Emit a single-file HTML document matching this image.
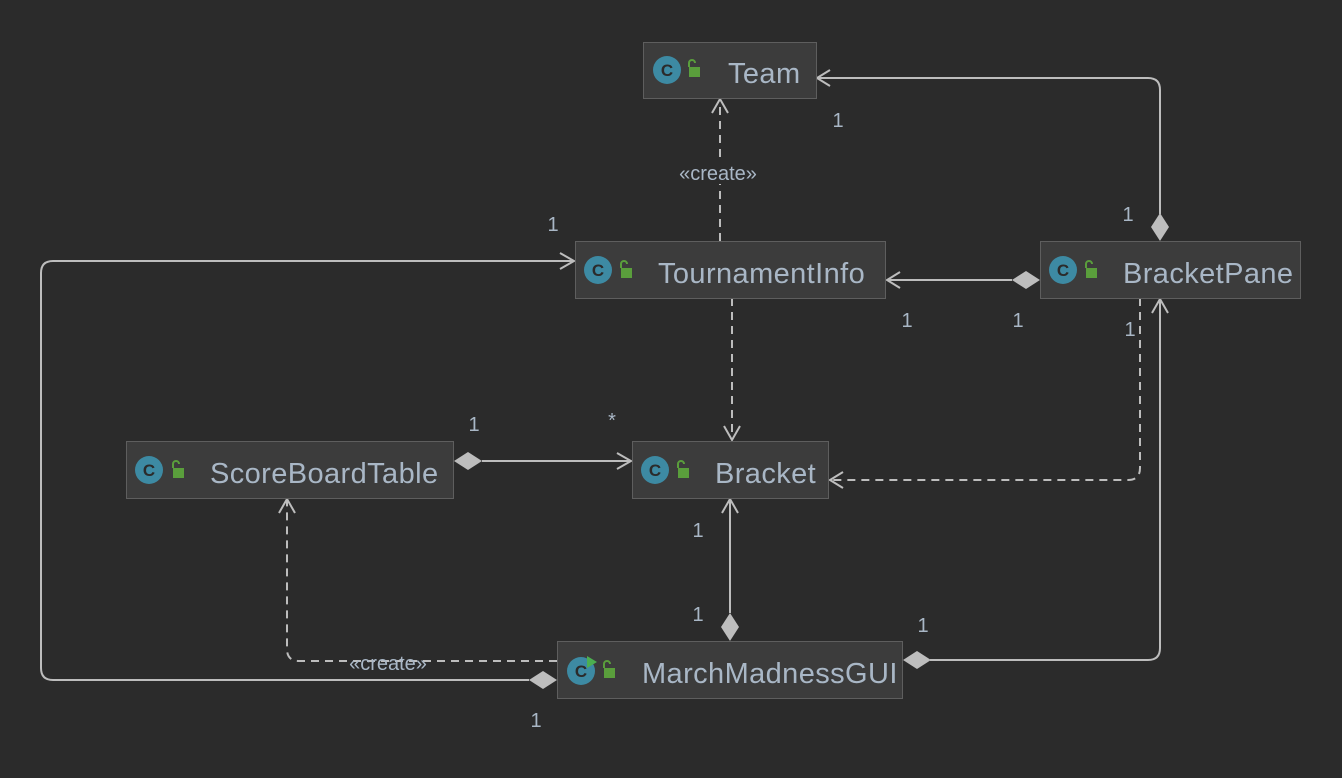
<!DOCTYPE html>
<html><head><meta charset="utf-8"><style>
html,body{margin:0;padding:0;background:#2b2b2b;}
svg{display:block;}
.n{font-family:"Liberation Sans","DejaVu Sans",sans-serif;font-size:29px;letter-spacing:0.4px;fill:#a9b7c6;}
.l{font-family:"Liberation Sans","DejaVu Sans",sans-serif;font-size:20px;fill:#a9b7c6;}
.ln{stroke:#bdbdbd;stroke-width:2;fill:none;}
.d{stroke-dasharray:8,6;}
.dm{fill:#bdbdbd;}
</style></head><body>
<svg width="1342" height="778" viewBox="0 0 1342 778" xmlns="http://www.w3.org/2000/svg">
<defs>
<g id="ic"><circle cx="0" cy="0" r="14" fill="#3d8aa3"/><text x="0" y="6" text-anchor="middle" font-family="Liberation Sans,sans-serif" font-weight="bold" font-size="17" fill="#2b2b2b">C</text></g>
<g id="lk"><rect x="0" y="0" width="11" height="10" fill="#5a9e3c"/><path d="M2 0 V-4 a3 3 0 0 1 6 0" stroke="#5a9e3c" stroke-width="2" fill="none" transform="translate(-2,0)"/></g>
</defs>

<path class="ln" d="M817 78 H1148 Q1160 78 1160 90 V214"/>
<path class="ln" d="M830 70 L817 78 L830 86"/>
<path class="dm" d="M1160 213 L1169 227 L1160 241 L1151 227 Z"/>
<path class="ln d" d="M720 241 V100"/>
<path class="ln" d="M712 113 L720 99 L728 113"/>
<rect x="668" y="160" width="102" height="24" fill="#2b2b2b"/>
<text class="l" x="718" y="180" text-anchor="middle">«create»</text>
<path class="ln" d="M887 280 H1012"/>
<path class="ln" d="M900 272 L887 280 L900 288"/>
<path class="dm" d="M1012 280 L1026 271 L1040 280 L1026 289 Z"/>
<path class="ln d" d="M732 298 V439"/>
<path class="ln" d="M724 426 L732 440 L740 426"/>
<path class="ln d" d="M1140 298 V468 Q1140 480 1128 480 H830"/>
<path class="ln" d="M843 472 L830 480 L843 488"/>
<path class="ln" d="M482 461 H630"/>
<path class="ln" d="M617 453 L631 461 L617 469"/>
<path class="dm" d="M454 461 L468 452 L482 461 L468 470 Z"/>
<path class="ln" d="M730 613 V500"/>
<path class="ln" d="M722 513 L730 499 L738 513"/>
<path class="dm" d="M730 613 L739 627 L730 641 L721 627 Z"/>
<path class="ln" d="M930 660 H1148 Q1160 660 1160 648 V300"/>
<path class="ln" d="M1152 313 L1160 299 L1168 313"/>
<path class="dm" d="M903 660 L917 651 L931 660 L917 669 Z"/>
<path class="ln d" d="M557 661 H299 Q287 661 287 649 V500"/>
<path class="ln" d="M279 513 L287 499 L295 513"/>
<text class="l" x="388" y="670" text-anchor="middle">«create»</text>
<path class="ln" d="M529 680 H53 Q41 680 41 668 V273 Q41 261 53 261 H573"/>
<path class="ln" d="M560 253 L574 261 L560 269"/>
<path class="dm" d="M529 680 L543 671 L557 680 L543 689 Z"/>

<text class="l" x="838" y="127" text-anchor="middle">1</text>
<text class="l" x="1128" y="221" text-anchor="middle">1</text>
<text class="l" x="553" y="231" text-anchor="middle">1</text>
<text class="l" x="907" y="327" text-anchor="middle">1</text>
<text class="l" x="1018" y="327" text-anchor="middle">1</text>
<text class="l" x="1130" y="336" text-anchor="middle">1</text>
<text class="l" x="474" y="431" text-anchor="middle">1</text>
<text class="l" x="612" y="427" text-anchor="middle">*</text>
<text class="l" x="698" y="537" text-anchor="middle">1</text>
<text class="l" x="698" y="621" text-anchor="middle">1</text>
<text class="l" x="923" y="632" text-anchor="middle">1</text>
<text class="l" x="536" y="727" text-anchor="middle">1</text>

<g>
<rect x="643.5" y="42.5" width="173" height="56" fill="#3c3c3c" stroke="#5e5e5e"/>
<use href="#ic" x="667" y="70"/><use href="#lk" x="689" y="67"/>
<text class="n" x="728" y="83">Team</text>
</g>
<g>
<rect x="575.5" y="241.5" width="310" height="57" fill="#3c3c3c" stroke="#5e5e5e"/>
<use href="#ic" x="598" y="270"/><use href="#lk" x="621" y="268"/>
<text class="n" x="658" y="283">TournamentInfo</text>
</g>
<g>
<rect x="1040.5" y="241.5" width="260" height="57" fill="#3c3c3c" stroke="#5e5e5e"/>
<use href="#ic" x="1063" y="270"/><use href="#lk" x="1086" y="268"/>
<text class="n" x="1123" y="283">BracketPane</text>
</g>
<g>
<rect x="126.5" y="441.5" width="327" height="57" fill="#3c3c3c" stroke="#5e5e5e"/>
<use href="#ic" x="149" y="470"/><use href="#lk" x="173" y="468"/>
<text class="n" x="210" y="483">ScoreBoardTable</text>
</g>
<g>
<rect x="632.5" y="441.5" width="196" height="57" fill="#3c3c3c" stroke="#5e5e5e"/>
<use href="#ic" x="655" y="470"/><use href="#lk" x="678" y="468"/>
<text class="n" x="715" y="483">Bracket</text>
</g>
<g>
<rect x="557.5" y="641.5" width="345" height="57" fill="#3c3c3c" stroke="#5e5e5e"/>
<use href="#ic" x="581" y="671"/><path d="M587 656 L597 662 L587 668 Z" fill="#4caf50"/><use href="#lk" x="604" y="668"/>
<text class="n" x="642" y="683">MarchMadnessGUI</text>
</g>
</svg>
</body></html>
